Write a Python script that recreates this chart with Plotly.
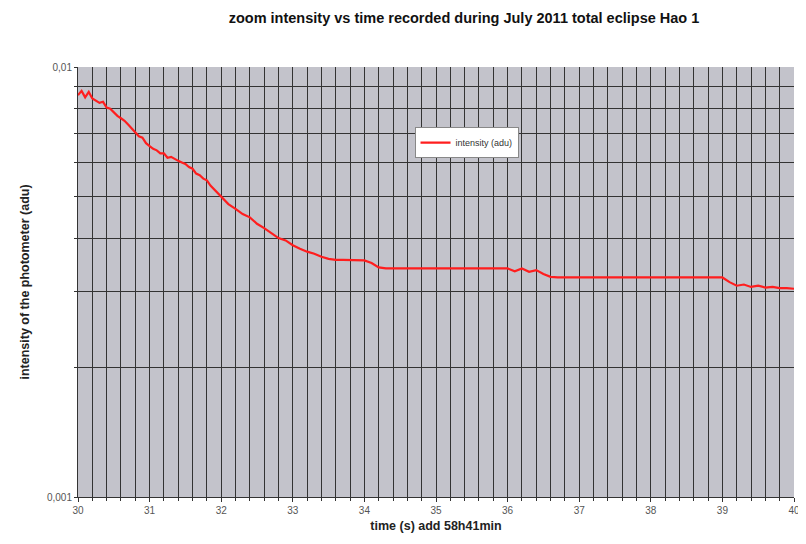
import plotly.graph_objects as go

time_s = [30.0, 30.05, 30.1, 30.15, 30.2, 30.25, 30.3, 30.35, 30.4, 30.45, 30.5, 30.55, 30.6, 30.65, 30.7, 30.75, 30.8, 30.85, 30.9, 30.95,
          31.0, 31.05, 31.1, 31.15, 31.2, 31.25, 31.3, 31.35, 31.4, 31.45, 31.5, 31.55, 31.6, 31.65, 31.7, 31.75, 31.8, 31.85, 31.9, 31.95,
          32.0, 32.1, 32.2, 32.3, 32.4, 32.5, 32.6, 32.7, 32.8, 32.9,
          33.0, 33.1, 33.2, 33.3, 33.4, 33.5, 33.6, 33.7, 33.8, 33.9,
          34.0, 34.1, 34.2, 34.3, 34.4, 34.5, 34.6, 34.7, 34.8, 34.9,
          35.0, 35.1, 35.2, 35.3, 35.4, 35.5, 35.6, 35.7, 35.8, 35.9,
          36.0, 36.1, 36.2, 36.3, 36.4, 36.5, 36.6, 36.7, 36.8, 36.9,
          37.0, 37.1, 37.2, 37.3, 37.4, 37.5, 37.6, 37.7, 37.8, 37.9,
          38.0, 38.1, 38.2, 38.3, 38.4, 38.5, 38.6, 38.7, 38.8, 38.9,
          39.0, 39.1, 39.2, 39.3, 39.4, 39.5, 39.6, 39.7, 39.8, 39.9, 40.0]

intensity = [0.00860, 0.00880, 0.00850, 0.00875, 0.00845, 0.00835, 0.00825, 0.00830, 0.00805, 0.00800, 0.00785, 0.00770, 0.00760, 0.00750, 0.00735, 0.00720, 0.00705, 0.00690, 0.00685, 0.00665,
             0.00655, 0.00645, 0.00640, 0.00630, 0.00630, 0.00615, 0.00618, 0.00610, 0.00605, 0.00600, 0.00595, 0.00585, 0.00580, 0.00565, 0.00560, 0.00550, 0.00545, 0.00530, 0.00520, 0.00510,
             0.00500, 0.00480, 0.00468, 0.00455, 0.00447, 0.00432, 0.00422, 0.00410, 0.00400, 0.00395,
             0.00385, 0.00378, 0.00372, 0.00368, 0.00362, 0.00358, 0.00356, 0.00356, 0.00356, 0.00356,
             0.00355, 0.00350, 0.00342, 0.00340, 0.00340, 0.00340, 0.00340, 0.00340, 0.00340, 0.00340,
             0.00340, 0.00340, 0.00340, 0.00340, 0.00340, 0.00340, 0.00340, 0.00340, 0.00340, 0.00340,
             0.00340, 0.00335, 0.00340, 0.00334, 0.00337, 0.00330, 0.00325, 0.00324, 0.00324, 0.00324,
             0.00324, 0.00324, 0.00324, 0.00324, 0.00324, 0.00324, 0.00324, 0.00324, 0.00324, 0.00324,
             0.00324, 0.00324, 0.00324, 0.00324, 0.00324, 0.00324, 0.00324, 0.00324, 0.00324, 0.00324,
             0.00324, 0.00316, 0.00310, 0.00312, 0.00308, 0.00310, 0.00307, 0.00308, 0.00306, 0.00306, 0.00305]

y_tickvals = [0.001, 0.002, 0.003, 0.004, 0.005, 0.006, 0.007, 0.008, 0.009, 0.01]
y_ticktext = ["0,001", "", "", "", "", "", "", "", "", "0,01"]

title = "zoom intensity vs time recorded during July 2011 total eclipse Hao 1"
x_title = "time (s) add 58h41min"
y_title = "intensity of the photometer (adu)"
series_name = "intensity (adu)"

fig = go.Figure()
fig.add_trace(go.Scatter(
    x=time_s, y=intensity, mode="lines", name=series_name,
    line=dict(color="#ff1e1e", width=2.2),
))

fig.update_layout(
    width=798, height=536,
    margin=dict(l=70, r=12, t=59, b=47),
    paper_bgcolor="white",
    plot_bgcolor="#c3c3cb",
    font=dict(family="Liberation Sans, Arial", size=10, color="#555"),
    title=dict(text="<b>" + title + "</b>", x=456/798, xanchor="center",
               y=1 - 10/536, yanchor="middle",
               font=dict(size=14.5, color="#111")),
    showlegend=True,
    legend=dict(x=0.47, y=0.86, xanchor="left", yanchor="top",
                bgcolor="white", bordercolor="#888", borderwidth=1,
                font=dict(size=9, color="#333"),
                itemwidth=30, tracegroupgap=0),
    xaxis=dict(
        range=[30, 40], dtick=1, tick0=30, automargin=False,
        ticklabeloverflow="allow",
        showgrid=True, gridcolor="#333", gridwidth=1,
        minor=dict(dtick=0.2, showgrid=True, gridcolor="#333", gridwidth=1,
                   ticks="outside", ticklen=3, tickcolor="#333"),
        ticks="outside", ticklen=4, tickcolor="#333",
        showline=True, linecolor="#333", linewidth=1, mirror=False,
        zeroline=False,
        tickfont=dict(size=10, color="#555"),
        title=dict(text="<b>" + x_title + "</b>", font=dict(size=12.5, color="#222"), standoff=6),
    ),
    yaxis=dict(
        type="log", range=[-3, -2], automargin=False,
        tickvals=y_tickvals, ticktext=y_ticktext,
        showgrid=True, gridcolor="#333", gridwidth=1,
        ticks="outside", ticklen=3, tickcolor="#333",
        showline=True, linecolor="#333", linewidth=1,
        zeroline=False,
        tickfont=dict(size=10, color="#555"),
        title=dict(text="<b>" + y_title + "</b>", font=dict(size=12.5, color="#222"), standoff=14),
    ),
)

fig.write_html("out.html")
